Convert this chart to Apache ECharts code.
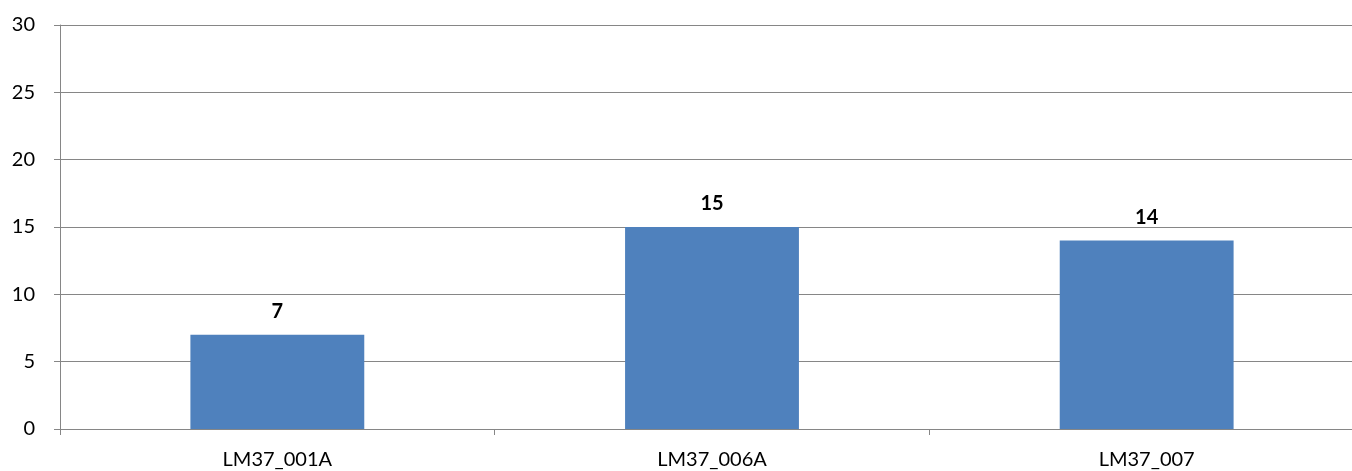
<!DOCTYPE html>
<html><head><meta charset="utf-8">
<script src="https://cdn.jsdelivr.net/npm/echarts@6/dist/echarts.min.js"></script>
<style>html,body{margin:0;padding:0;background:#fff;overflow:hidden;width:1352px;height:471px}#c{width:1364px;height:471px}</style>
</head><body><div id="c"></div>
<script>
const categories = ["LM37_001A", "LM37_006A", "LM37_007"];
const values = [7, 15, 14];
const yTicks = [0, 5, 10, 15, 20, 25, 30];

const chart = echarts.init(document.getElementById('c'));
const font = 'Lato, "Open Sans", sans-serif';
chart.setOption({
  animation: false,
  grid: {left: 60, right: 0, top: 25, bottom: 42, containLabel: false},
  xAxis: {
    type: 'category', data: categories,
    axisLine: {lineStyle: {color: '#868686', width: 1}},
    axisTick: {show: true, length: 6, lineStyle: {color: '#868686'}},
    axisLabel: {color: '#000', fontSize: 20, fontFamily: font, margin: 21}
  },
  yAxis: {
    type: 'value', min: yTicks[0], max: yTicks[yTicks.length-1], interval: 5,
    axisLine: {show: true, lineStyle: {color: '#868686'}},
    axisTick: {show: true, length: 6, lineStyle: {color: '#868686'}},
    splitLine: {lineStyle: {color: '#868686', width: 1}},
    axisLabel: {color: '#000', fontSize: 20, fontFamily: font, margin: 25}
  },
  series: [{
    type: 'bar', data: values, barWidth: '40%',
    itemStyle: {color: '#4F81BD'},
    label: {show: true, position: 'top', distance: 13, color: '#000', fontWeight: 'bold', fontSize: 20, fontFamily: font}
  }]
});
</script></body></html>
